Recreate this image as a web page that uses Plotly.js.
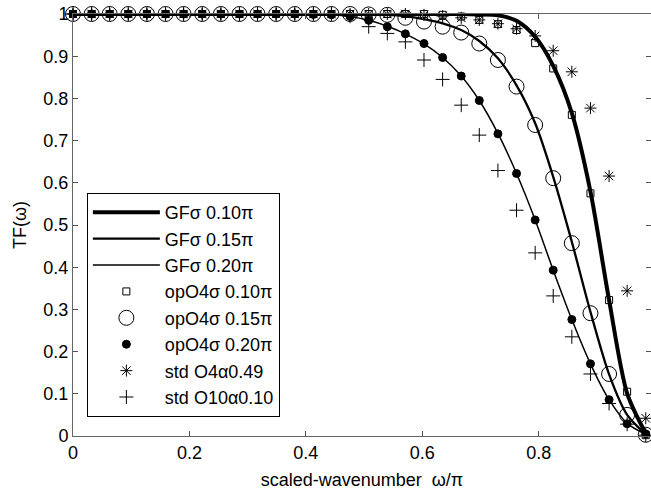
<!DOCTYPE html>
<html>
<head>
<meta charset="utf-8">
<script src="https://cdn.plot.ly/plotly-3.0.1.min.js"></script>
<style>html,body{margin:0;padding:0;background:#fff;}#chart{width:651px;height:491px;}</style>
</head>
<body>
<div id="chart"></div>
<script>
// scaled wavenumber grid (omega/pi)
const xs = [0, 0.032, 0.063, 0.095, 0.127, 0.159, 0.190, 0.222, 0.254, 0.286, 0.317, 0.349, 0.381, 0.413, 0.444, 0.476, 0.508, 0.540, 0.571, 0.603, 0.635, 0.667, 0.698, 0.730, 0.762, 0.794, 0.825, 0.857, 0.889, 0.921, 0.952, 0.984];

// Gaussian filter transfer functions (lines)
const gf10 = [1,1,1,1,1,1,1,1,1,1,1,1,1,1,1,1,1,1,1,1,1,1, 0.999, 0.997, 0.984, 0.946, 0.877, 0.765, 0.579, 0.322, 0.101, 0.006];
const gf15 = [1,1,1,1,1,1,1,1,1,1,1,1,1,1,1,1, 0.999, 0.998, 0.995, 0.988, 0.978, 0.962, 0.936, 0.895, 0.831, 0.741, 0.614, 0.460, 0.294, 0.146, 0.050, 0.004];
const gf20 = [1,1,1,1,1,1,1,1,1,1,1,1,1, 0.999, 0.998, 0.994, 0.985, 0.971, 0.953, 0.929, 0.897, 0.853, 0.795, 0.717, 0.622, 0.512, 0.393, 0.276, 0.171, 0.086, 0.030, 0.004];

// optimized order-4 filters (markers)
const op10 = [1,1,1,1,1,1,1,1,1,1,1,1,1,1,1,1,1,1,1,1, 0.998, 0.994, 0.986, 0.976, 0.962, 0.931, 0.871, 0.761, 0.575, 0.322, 0.105, 0.002];
const op15 = [1,1,1,1,1,1,1,1,1,1,1,1,1,1,1,1, 0.999, 0.998, 0.991, 0.982, 0.970, 0.956, 0.930, 0.891, 0.828, 0.737, 0.611, 0.457, 0.291, 0.147, 0.050, 0.003];
const op20 = [1,1,1,1,1,1,1,1,1,1,1,1,1, 0.999, 0.998, 0.994, 0.985, 0.970, 0.953, 0.930, 0.897, 0.853, 0.795, 0.716, 0.622, 0.512, 0.393, 0.276, 0.171, 0.086, 0.029, 0.005];

// standard filters (markers)
const std4 = [1,1,1,1,1,1,1,1,1,1,1,1,1,1,1,1,1,1,1, 0.998, 0.995, 0.991, 0.986, 0.977, 0.965, 0.948, 0.913, 0.863, 0.777, 0.616, 0.344, 0.042];
const std10 = [1,1,1,1,1,1,1,1,1,1,1,1,1,1,1, 0.995, 0.970, 0.954, 0.934, 0.891, 0.845, 0.784, 0.713, 0.629, 0.535, 0.434, 0.332, 0.235, 0.147, 0.077, 0.028, 0.002];

const names = ['GFσ 0.10π', 'GFσ 0.15π', 'GFσ 0.20π', 'opO4σ 0.10π', 'opO4σ 0.15π', 'opO4σ 0.20π', 'std O4α0.49', 'std O10α0.10'];
const xTicks = [0, 0.2, 0.4, 0.6, 0.8];
const yTicks = [0, 0.1, 0.2, 0.3, 0.4, 0.5, 0.6, 0.7, 0.8, 0.9, 1];

const lineTrace = (y, name, w) => ({x: xs, y: y, name: name, type: 'scatter', mode: 'lines',
  line: {color: '#000', width: w, shape: 'spline', smoothing: 0.8}, cliponaxis: false});
const markTrace = (y, name, sym, size) => ({x: xs, y: y, name: name, type: 'scatter', mode: 'markers',
  marker: {symbol: sym, size: size, color: '#000', line: {color: '#000', width: 1}}, cliponaxis: false});

const data = [
  lineTrace(gf10, names[0], 4),
  lineTrace(gf15, names[1], 2.3),
  lineTrace(gf20, names[2], 1.5),
  markTrace(op10, names[3], 'square-open', 7),
  markTrace(op15, names[4], 'circle-open', 15),
  markTrace(op20, names[5], 'circle', 8),
  markTrace(std4, names[6], 'asterisk-open', 10),
  markTrace(std10, names[7], 'cross-thin-open', 10)
];

const family = '"Liberation Sans", Arial, sans-serif';
const font = {family: family, size: 18, color: '#000'};
const layout = {
  width: 651, height: 491,
  margin: {l: 73, r: 0, t: 14, b: 55},
  paper_bgcolor: '#fff', plot_bgcolor: '#fff',
  font: font,
  showlegend: true,
  legend: {x: 0.024, y: 0.045, xanchor: 'left', yanchor: 'bottom', bgcolor: '#fff',
    bordercolor: '#000', borderwidth: 1, font: font,
    itemwidth: 67, traceorder: 'normal'},
  xaxis: {range: [0, 0.993], tickvals: xTicks, ticktext: xTicks.map(String), ticks: 'inside', ticklen: 5,
    tickcolor: '#555', showline: true, linecolor: '#666', linewidth: 1, mirror: 'ticks',
    showgrid: false, zeroline: false, tickfont: font,
    title: {text: 'scaled-wavenumber  ω/π', font: font, standoff: 11}},
  yaxis: {range: [0, 1], tickvals: yTicks, ticktext: yTicks.map(String), ticks: 'inside', ticklen: 5,
    tickcolor: '#555', showline: true, linecolor: '#666', linewidth: 1, mirror: 'ticks',
    showgrid: false, zeroline: false, tickfont: font, automargin: true,
    title: {text: 'TF(ω)', font: font, standoff: 12}}
};
Plotly.newPlot('chart', data, layout, {staticPlot: true, displayModeBar: false});
</script>
</body>
</html>
